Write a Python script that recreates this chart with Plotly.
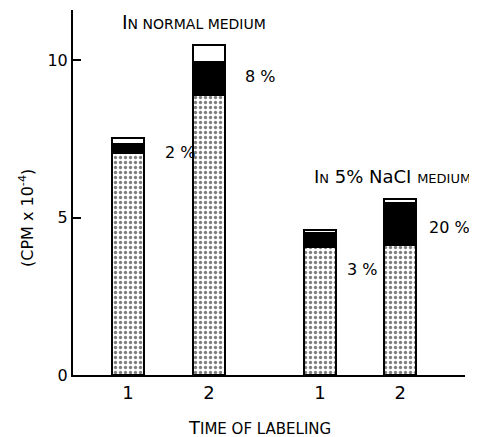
import plotly.graph_objects as go

# Data
x_pos = [1.0, 2.0, 3.37, 4.36]
tick_labels = ["1", "2", "1", "2"]
gray_vals = [7.07, 8.90, 4.07, 4.13]
black_vals = [0.28, 1.04, 0.44, 1.33]
white_vals = [0.19, 0.56, 0.09, 0.12]
pct_labels = ["2 %", "8 %", "3 %", "20 %"]
pct_y = [7.07, 9.50, 3.34, 4.68]
pct_x_off = [0.43, 0.42, 0.31, 0.33]

FONT = "DejaVu Sans"
fig = go.Figure()
bw = 0.39
fig.add_trace(go.Bar(x=x_pos, y=gray_vals, width=bw,
                     marker=dict(color="white", line=dict(color="black", width=2),
                                 pattern=dict(shape=".", fgcolor="black", bgcolor="white",
                                              size=5, solidity=0.35, fillmode="overlay")),
                     showlegend=False))
fig.add_trace(go.Bar(x=x_pos, y=black_vals, width=bw,
                     marker=dict(color="black", line=dict(color="black", width=2)),
                     showlegend=False))
fig.add_trace(go.Bar(x=x_pos, y=white_vals, width=bw,
                     marker=dict(color="white", line=dict(color="black", width=2)),
                     showlegend=False))

ann = []
for xp, yy, off, t in zip(x_pos, pct_y, pct_x_off, pct_labels):
    ann.append(dict(x=xp + off, y=yy, xref="x", yref="y", text=t, showarrow=False,
                    xanchor="left", yanchor="middle",
                    font=dict(family=FONT, size=16, color="black")))
SC = "<span style='font-size:15px'>"
SC1 = "<span style='font-size:14px'>"
SC2 = "<span style='font-size:13px'>"
ann.append(dict(x=0.9, y=11.23, xref="x", yref="y", xanchor="left", yanchor="middle",
                text="I" + SC1 + "N NORMAL MEDIUM</span>", showarrow=False,
                font=dict(family=FONT, size=19, color="black")))
ann.append(dict(x=3.27, y=6.3, xref="x", yref="y", xanchor="left", yanchor="middle",
                text="I" + SC2 + "N</span> 5% NaCI " + SC2 + "MEDIUM</span>",
                showarrow=False, font=dict(family=FONT, size=18, color="black")))
ann.append(dict(x=0.475, y=-0.145, xref="paper", yref="paper", xanchor="center", yanchor="middle",
                text="T" + SC + "IME OF LABELING</span>", showarrow=False,
                font=dict(family=FONT, size=18, color="black")))
ann.append(dict(x=-0.12, y=0.43, xref="paper", yref="paper", xanchor="center", yanchor="middle",
                text="(CPM x 10<sup>-4</sup>)", textangle=-90, showarrow=False,
                font=dict(family=FONT, size=16, color="black")))

# page body has an 8px margin: shrink figure and margins to compensate
fig.update_layout(
    barmode="stack", bargap=0,
    width=469, height=429,
    margin=dict(l=65, r=12, t=2, b=62),
    plot_bgcolor="white", paper_bgcolor="white",
    font=dict(family=FONT, size=15, color="black"),
    annotations=ann,
    xaxis=dict(range=[0.32, 5.16], tickmode="array", tickvals=x_pos, ticktext=tick_labels,
               showgrid=False, zeroline=False, showline=True, linecolor="black", linewidth=2,
               ticks="", tickfont=dict(family=FONT, size=18)),
    yaxis=dict(range=[0, 11.6], tickvals=[0, 5, 10], showgrid=False, zeroline=False,
               showline=True, linecolor="black", linewidth=2, ticks="inside", ticklen=8,
               tickwidth=2, tickcolor="black", tickfont=dict(family=FONT, size=16)),
)
fig.write_html("out.html")
